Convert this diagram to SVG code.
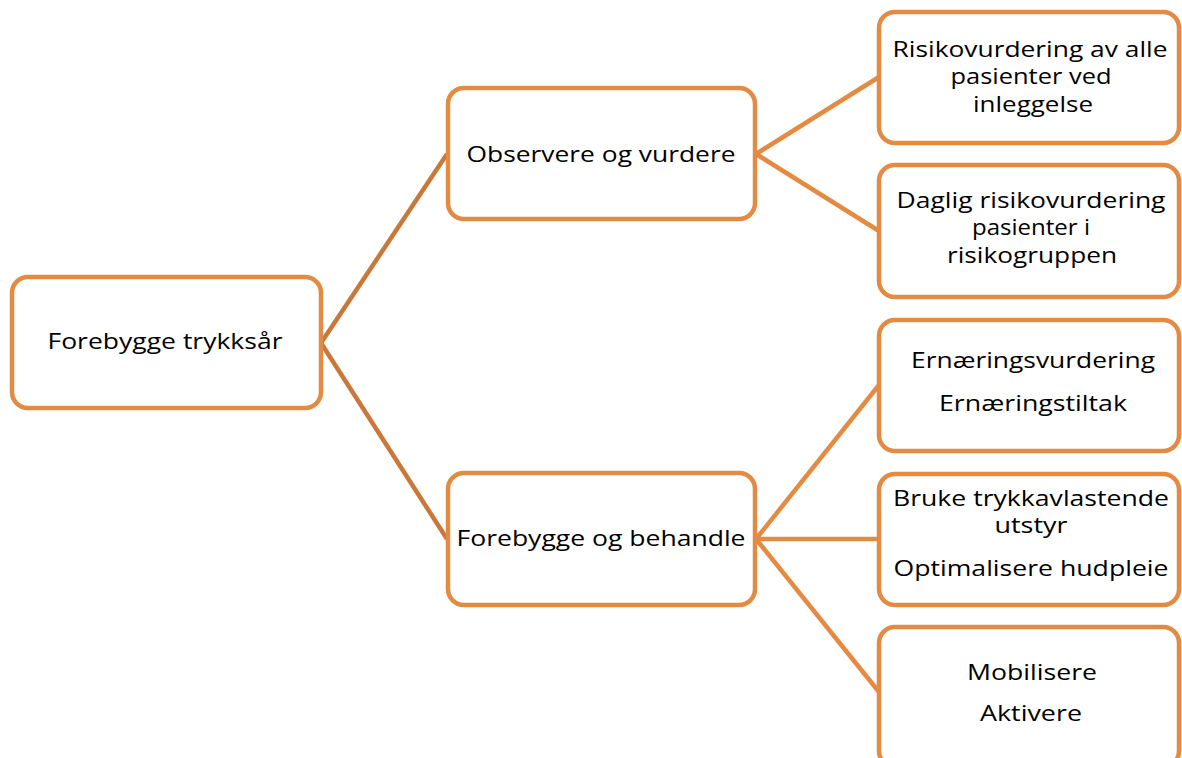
<svg xmlns="http://www.w3.org/2000/svg" width="1182" height="758" viewBox="0 0 1182 758">
<style>
.box{fill:#fff;stroke:#E38A43;stroke-width:4.5}
.c1{stroke:#C9783A;stroke-width:4.5;fill:none}
.c2{stroke:#E38A43;stroke-width:4.5;fill:none}
text{font-family:"Open Sans","Liberation Sans",sans-serif;font-size:21px;fill:#000;text-anchor:middle}
</style>
<rect width="1182" height="758" fill="#fff"/>
<g id="connectors">
<line class="c1" x1="321" y1="343" x2="447" y2="154"/>
<line class="c1" x1="321" y1="343" x2="447" y2="539"/>
<line class="c2" x1="756" y1="154" x2="879" y2="77"/>
<line class="c2" x1="756" y1="154" x2="879" y2="231"/>
<line class="c2" x1="756" y1="539" x2="879" y2="385"/>
<line class="c2" x1="756" y1="539" x2="879" y2="539"/>
<line class="c2" x1="756" y1="539" x2="879" y2="692"/>
</g>
<g id="root">
<rect class="box" x="12" y="277" width="309" height="131" rx="16"/>
<text x="165" y="349" textLength="235" lengthAdjust="spacingAndGlyphs">Forebygge trykksår</text>
</g>
<g id="observe">
<rect class="box" x="448" y="88" width="307" height="131" rx="16"/>
<text x="601" y="162" textLength="269" lengthAdjust="spacingAndGlyphs">Observere og vurdere</text>
</g>
<g id="prevent">
<rect class="box" x="448" y="473" width="307" height="132" rx="16"/>
<text x="601" y="546" textLength="289" lengthAdjust="spacingAndGlyphs">Forebygge og behandle</text>
</g>
<g id="r1">
<rect class="box" x="879" y="12" width="300" height="131" rx="16"/>
<text x="1030" y="57" textLength="275" lengthAdjust="spacingAndGlyphs">Risikovurdering av alle</text>
<text x="1031" y="84" textLength="161" lengthAdjust="spacingAndGlyphs">pasienter ved</text>
<text x="1033" y="112" textLength="120" lengthAdjust="spacingAndGlyphs">inleggelse</text>
</g>
<g id="r2">
<rect class="box" x="879" y="165" width="300" height="132" rx="16"/>
<text x="1031" y="208" textLength="269" lengthAdjust="spacingAndGlyphs">Daglig risikovurdering</text>
<text x="1031" y="235" textLength="118" lengthAdjust="spacingAndGlyphs">pasienter i</text>
<text x="1032" y="263" textLength="170" lengthAdjust="spacingAndGlyphs">risikogruppen</text>
</g>
<g id="r3">
<rect class="box" x="879" y="320" width="300" height="131" rx="16"/>
<text x="1033" y="368" textLength="244" lengthAdjust="spacingAndGlyphs">Ernæringsvurdering</text>
<text x="1033" y="411" textLength="188" lengthAdjust="spacingAndGlyphs">Ernæringstiltak</text>
</g>
<g id="r4">
<rect class="box" x="879" y="474" width="300" height="131" rx="16"/>
<text x="1031" y="506" textLength="276" lengthAdjust="spacingAndGlyphs">Bruke trykkavlastende</text>
<text x="1031" y="533" textLength="73" lengthAdjust="spacingAndGlyphs">utstyr</text>
<text x="1031" y="576" textLength="275" lengthAdjust="spacingAndGlyphs">Optimalisere hudpleie</text>
</g>
<g id="r5">
<rect class="box" x="879" y="627" width="300" height="140" rx="16"/>
<text x="1032" y="680" textLength="130" lengthAdjust="spacingAndGlyphs">Mobilisere</text>
<text x="1031" y="721" textLength="102" lengthAdjust="spacingAndGlyphs">Aktivere</text>
</g>
</svg>
